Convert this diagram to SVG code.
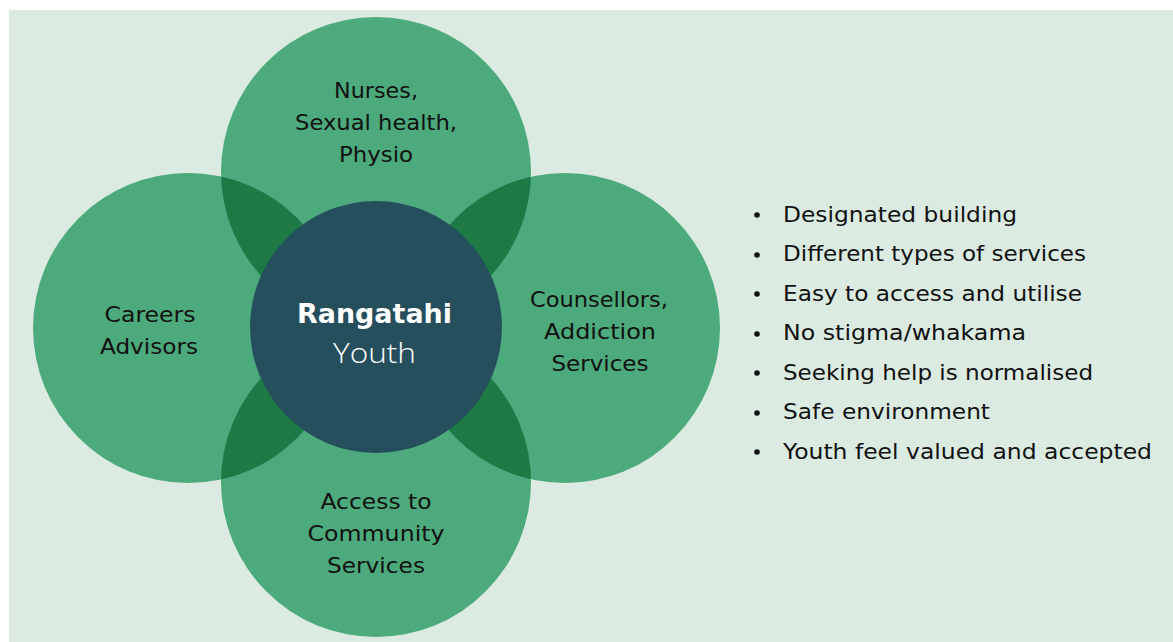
<svg xmlns="http://www.w3.org/2000/svg" width="1173" height="642" viewBox="0 0 1173 642">
<style>
.petal{fill:#4caa7c}
.lens{fill:#1d7a45}
.lbl{font-family:"DejaVu Sans","Open Sans",sans-serif;font-size:21px;fill:#111;text-anchor:middle}
.bul{font-family:"DejaVu Sans","Open Sans",sans-serif;font-size:21px;fill:#111}
.dot{fill:#111}
</style>
<defs>
<clipPath id="cTop"><circle cx="376" cy="172" r="155"/></clipPath>
<clipPath id="cBot"><circle cx="376" cy="482" r="155"/></clipPath>
</defs>
<rect x="0" y="0" width="1173" height="642" fill="#ffffff"/>
<rect x="9" y="10" width="1164" height="632" fill="#dcebe2"/>
<g id="node-careers">
<circle class="petal" cx="188" cy="328" r="155"/>
<text class="lbl" x="150" y="322" textLength="91" lengthAdjust="spacingAndGlyphs">Careers</text>
<text class="lbl" x="149" y="354" textLength="98" lengthAdjust="spacingAndGlyphs">Advisors</text>
</g>
<g id="node-counsellors">
<circle class="petal" cx="565" cy="328" r="155"/>
<text class="lbl" x="599" y="307" textLength="138" lengthAdjust="spacingAndGlyphs">Counsellors,</text>
<text class="lbl" x="600" y="339" textLength="112" lengthAdjust="spacingAndGlyphs">Addiction</text>
<text class="lbl" x="600" y="371" textLength="97" lengthAdjust="spacingAndGlyphs">Services</text>
</g>
<g id="node-nurses">
<circle class="petal" cx="376" cy="172" r="155"/>
<text class="lbl" x="376" y="98" textLength="84" lengthAdjust="spacingAndGlyphs">Nurses,</text>
<text class="lbl" x="376" y="130" textLength="162" lengthAdjust="spacingAndGlyphs">Sexual health,</text>
<text class="lbl" x="376" y="162" textLength="74" lengthAdjust="spacingAndGlyphs">Physio</text>
</g>
<g id="node-community">
<circle class="petal" cx="376" cy="482" r="155"/>
<text class="lbl" x="376" y="509" textLength="111" lengthAdjust="spacingAndGlyphs">Access to</text>
<text class="lbl" x="376" y="541" textLength="137" lengthAdjust="spacingAndGlyphs">Community</text>
<text class="lbl" x="376" y="573" textLength="98" lengthAdjust="spacingAndGlyphs">Services</text>
</g>
<g id="overlaps">
<circle class="lens" cx="188" cy="328" r="155" clip-path="url(#cTop)"/>
<circle class="lens" cx="565" cy="328" r="155" clip-path="url(#cTop)"/>
<circle class="lens" cx="188" cy="328" r="155" clip-path="url(#cBot)"/>
<circle class="lens" cx="565" cy="328" r="155" clip-path="url(#cBot)"/>
</g>
<g id="connectors"></g>
<g id="node-center">
<circle cx="376" cy="327" r="126" fill="#264f5e"/>
<text x="374.5" y="323" font-family="'DejaVu Sans','Open Sans',sans-serif" font-size="27" font-weight="700" fill="#ffffff" text-anchor="middle" textLength="155" lengthAdjust="spacingAndGlyphs">Rangatahi</text>
<text x="374.5" y="363" font-family="'Open Sans','Liberation Sans',sans-serif" font-size="28" font-weight="300" fill="#ffffff" text-anchor="middle" textLength="83" lengthAdjust="spacingAndGlyphs">Youth</text>
</g>
<g id="bullets">
<circle class="dot" cx="757" cy="215" r="2.8"/><text class="bul" x="783" y="222" textLength="234" lengthAdjust="spacingAndGlyphs">Designated building</text>
<circle class="dot" cx="757" cy="255" r="2.8"/><text class="bul" x="783" y="261" textLength="303" lengthAdjust="spacingAndGlyphs">Different types of services</text>
<circle class="dot" cx="757" cy="294" r="2.8"/><text class="bul" x="783" y="301" textLength="299" lengthAdjust="spacingAndGlyphs">Easy to access and utilise</text>
<circle class="dot" cx="757" cy="334" r="2.8"/><text class="bul" x="783" y="340" textLength="243" lengthAdjust="spacingAndGlyphs">No stigma/whakama</text>
<circle class="dot" cx="757" cy="373" r="2.8"/><text class="bul" x="783" y="380" textLength="310" lengthAdjust="spacingAndGlyphs">Seeking help is normalised</text>
<circle class="dot" cx="757" cy="413" r="2.8"/><text class="bul" x="783" y="419" textLength="207" lengthAdjust="spacingAndGlyphs">Safe environment</text>
<circle class="dot" cx="757" cy="452" r="2.8"/><text class="bul" x="783" y="459" textLength="369" lengthAdjust="spacingAndGlyphs">Youth feel valued and accepted</text>
</g>
</svg>
